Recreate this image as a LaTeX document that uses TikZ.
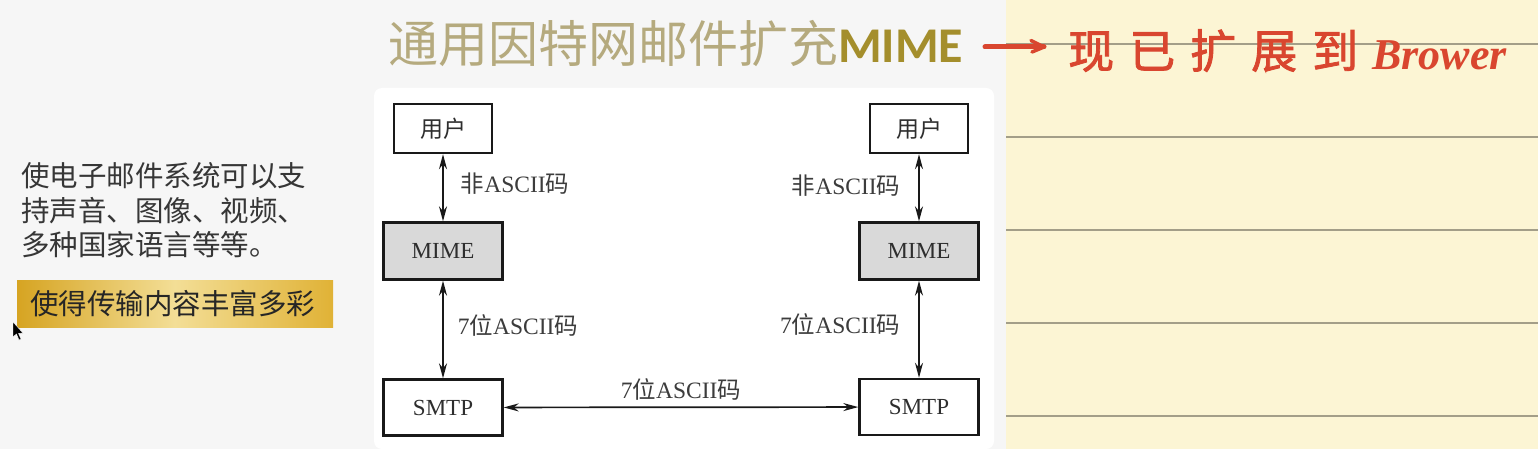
\documentclass[tikz,border=0pt]{standalone}
\usepackage{fontspec}
\setmainfont{Liberation Serif}
\newfontfamily\cjk{Noto Sans CJK SC}
\newfontfamily\cjkhand[FakeBold=1.8]{Noto Sans CJK SC}
\newfontfamily\carl{Carlito}
\usetikzlibrary{arrows.meta}
\definecolor{bgleft}{HTML}{F6F6F6}
\definecolor{paper}{HTML}{FCF5D4}
\definecolor{ruleline}{HTML}{A39E88}
\definecolor{boxgray}{HTML}{D9D9D9}
\definecolor{labelgray}{HTML}{3C3C3C}
\definecolor{titlecjk}{HTML}{B5AA7E}
\definecolor{titlemime}{HTML}{A48E2C}
\definecolor{redhand}{HTML}{D9462F}
\definecolor{goldL}{HTML}{D6A422}
\definecolor{goldM}{HTML}{F3DE96}
\definecolor{goldR}{HTML}{E0B236}
\definecolor{lefttextc}{HTML}{363636}
\begin{document}
\begin{tikzpicture}[x=1pt,y=-1pt,
  box/.style={draw=black!90, line width=2.4pt, minimum width=98pt, minimum height=49pt,
    inner sep=0pt, font=\fontsize{23}{26}\selectfont, text=black!82},
  graybox/.style={box, fill=boxgray, minimum width=119pt, minimum height=57pt},
  smtpbox/.style={box, minimum width=119pt, minimum height=56pt},
  lbl/.style={font=\fontsize{23.5}{25}\selectfont, text=labelgray, inner sep=0pt},
  darr/.style={{Stealth[length=15pt,width=8pt]}-{Stealth[length=15pt,width=8pt]}, line width=1.7pt, draw=black!90},
  lefttext/.style={anchor=base west, inner sep=0pt, font=\cjk\fontsize{28.5}{30}\selectfont, text=lefttextc},
  goldbox/.style={left color=goldL, right color=goldR, middle color=goldM, minimum width=316pt,
    minimum height=47pt, inner sep=0pt},
  redstroke/.style={draw=redhand, line cap=round, line join=round},
  hand/.style={anchor=base west, inner sep=0pt, text=redhand}
]
\useasboundingbox (0,0) rectangle (1538,449);
% backgrounds
\fill[bgleft] (0,0) rectangle (1006,449);
\fill[white, rounded corners=8pt] (374,88) rectangle (994,449);
\fill[paper] (1006,0) rectangle (1538,449);
\foreach \yy in {44,137,230,323,416}
  \draw[ruleline, line width=1.5pt] (1006,\yy) -- (1538,\yy);

% title
\node[anchor=base west, inner sep=0pt, font=\fontsize{50}{52}\selectfont] (title) at (388,63)
  {{\color{titlecjk}\cjk 通用因特网邮件扩充}{\color{titlemime}\carl\bfseries MIME}};

% handwriting
\node[hand, font=\cjkhand\fontsize{46}{48}\selectfont] (hw) at (1068,68)
  {现\hspace{15pt}已\hspace{15pt}扩\hspace{15pt}展\hspace{15pt}到};
\node[hand, font=\fontsize{44}{46}\selectfont\bfseries\itshape] (hb) at (1372,70) {Brower};
\coordinate (ra) at (985,47);
\coordinate (rb) at (1044,47);
\draw[redstroke, line width=5pt] (ra) -- (rb);
\draw[redstroke, line width=3.5pt] (1031,40.5) -- (rb) -- (1032,52);

% left text
\node[lefttext] (t1) at (21,186) {使电子邮件系统可以支};
\node[lefttext] (t2) at (21,221) {持声音、图像、视频、};
\node[lefttext] (t3) at (21,255) {多种国家语言等等。};
\node[goldbox] (g) at (175,303.5) {};
\node[lefttext, text=black!85] (gt) at (30,314) {使得传输内容丰富多彩};

% cursor
\fill[black, draw=white, line width=0.4pt] (13,322) -- (13,337) -- (16.5,334) -- (19,340) -- (21,339)
  -- (18.5,333.5) -- (23,333) -- cycle;

% diagram boxes
\node[box] (u1) at (443,128.5) {\cjk 用户};
\node[graybox] (m1) at (443,251) {MIME};
\node[smtpbox] (s1) at (443,407.5) {SMTP};
\node[box] (u2) at (919,128.5) {\cjk 用户};
\node[graybox] (m2) at (919,251) {MIME};
\node[smtpbox] (s2) at (919,407) {SMTP};

% connectors
\draw[darr] (u1) -- node[lbl, right=17pt, yshift=4.5pt] {{\cjk 非}ASCII{\cjk 码}} (m1);
\draw[darr] (m1) -- node[lbl, right=14pt, yshift=4.5pt] {7{\cjk 位}ASCII{\cjk 码}} (s1);
\draw[darr] (u2) -- node[lbl, left=18pt, yshift=2.5pt] {{\cjk 非}ASCII{\cjk 码}} (m2);
\draw[darr] (m2) -- node[lbl, left=18pt, yshift=5pt] {7{\cjk 位}ASCII{\cjk 码}} (s2);
\draw[darr] (s1) -- node[lbl, above=6pt] {7{\cjk 位}ASCII{\cjk 码}} (s2);
\end{tikzpicture}
\end{document}
